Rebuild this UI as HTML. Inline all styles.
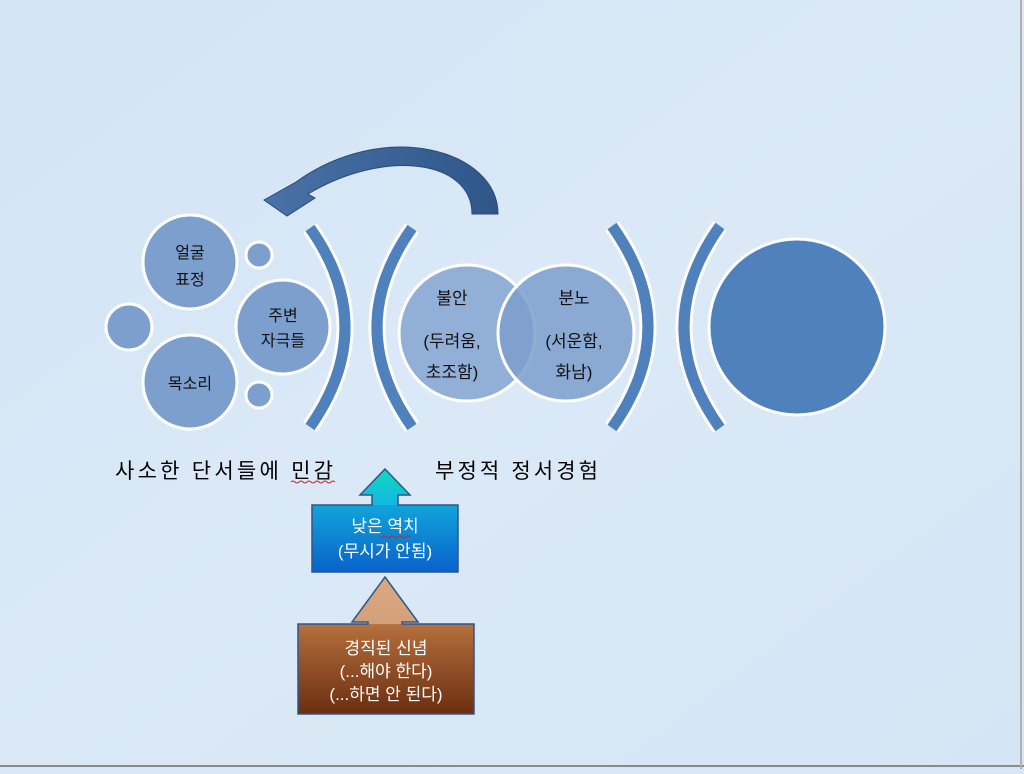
<!DOCTYPE html>
<html><head><meta charset="utf-8"><style>
html,body{margin:0;padding:0;}
body{width:1024px;height:769px;overflow:hidden;background:#d9e8f7;}
svg text{font-family:"Liberation Sans","Noto Sans CJK KR","NanumGothic",sans-serif;}
</style></head><body>
<svg width="1024" height="769" viewBox="0 0 1024 769" xmlns="http://www.w3.org/2000/svg">
<defs>
<linearGradient id="bg" x1="0" y1="0" x2="1" y2="1">
<stop offset="0" stop-color="#d3e4f6"/><stop offset="0.5" stop-color="#dbe9f7"/><stop offset="1" stop-color="#d5e5f5"/>
</linearGradient>
<linearGradient id="blue" x1="0" y1="0" x2="0" y2="1">
<stop offset="0" stop-color="#14c8e0"/><stop offset="1" stop-color="#0a62cc"/>
</linearGradient>
<linearGradient id="cyan" x1="0" y1="0" x2="0" y2="1">
<stop offset="0" stop-color="#10d8c0"/><stop offset="1" stop-color="#14b8e0"/>
</linearGradient>
<linearGradient id="brown" x1="0" y1="0" x2="0" y2="1">
<stop offset="0" stop-color="#d8a57a"/><stop offset="0.4" stop-color="#b06a3a"/><stop offset="1" stop-color="#6a2e10"/>
</linearGradient>
<linearGradient id="tan" x1="0" y1="0" x2="0" y2="1">
<stop offset="0" stop-color="#d9a880"/><stop offset="1" stop-color="#d4a07a"/>
</linearGradient>
<linearGradient id="arr" x1="0" y1="0" x2="1" y2="0">
<stop offset="0" stop-color="#4a72a8"/><stop offset="1" stop-color="#2f5688"/>
</linearGradient>
</defs>
<rect width="1024" height="769" fill="url(#bg)"/>
<line x1="0" y1="766" x2="1024" y2="766" stroke="#8a8a8a" stroke-width="2"/>
<line x1="1021" y1="0" x2="1021" y2="769" stroke="#b0b0b0" stroke-width="2"/>

<!-- curved arrow -->
<path d="M498,214 C498,150 385,118 296,182 L264,200 L287,216 L315,198 L308,194 C385,148 472,160 472,214 Z" fill="url(#arr)" stroke="#2a4a78" stroke-width="1"/>

<!-- small circles group -->
<g stroke="#fff" stroke-width="3" fill="#7d9fcd">
<circle cx="190" cy="262" r="47"/>
<circle cx="190" cy="382" r="47"/>
<circle cx="283" cy="327" r="47"/>
<circle cx="129" cy="327" r="23"/>
<circle cx="259" cy="255" r="13"/>
<circle cx="259" cy="395" r="13"/>
</g>
<g font-size="16" fill="#111" text-anchor="middle">
<text x="190" y="258">얼굴</text><text x="190" y="285">표정</text>
<text x="283" y="321">주변</text><text x="283" y="346">자극들</text>
<text x="190" y="389">목소리</text>
</g>

<!-- brackets -->
<g fill="none" stroke-linecap="butt">
<g stroke="#fff" stroke-width="17">
<path d="M310,228 Q380,327 310,427"/>
<path d="M412,228 Q342,327 412,427"/>
<path d="M612,226 Q684,327 612,428"/>
<path d="M720,226 Q648,327 720,428"/>
</g>
<g stroke="#4f81bd" stroke-width="11">
<path d="M310,228 Q380,327 310,427"/>
<path d="M412,228 Q342,327 412,427"/>
<path d="M612,226 Q684,327 612,428"/>
<path d="M720,226 Q648,327 720,428"/>
</g>
</g>

<!-- emotion circles -->
<circle cx="467" cy="333" r="68" fill="#89a8d3" fill-opacity="0.9" stroke="#fff" stroke-width="3"/>
<circle cx="566" cy="333" r="68" fill="#7d9fcd" fill-opacity="0.85" stroke="#fff" stroke-width="3"/>
<g font-size="17" fill="#111" text-anchor="middle">
<text x="452" y="304">불안</text><text x="452" y="347">(두려움,</text><text x="452" y="378">초조함)</text>
<text x="574" y="304">분노</text><text x="574" y="347">(서운함,</text><text x="574" y="378">화남)</text>
</g>
<circle cx="797" cy="327" r="88" fill="#4f81bd" stroke="#fff" stroke-width="3"/>

<g font-size="21" fill="#000">
<text x="115" y="478" textLength="218" lengthAdjust="spacing">사소한 단서들에 민감</text>
<text x="435" y="478" textLength="163" lengthAdjust="spacing">부정적 정서경험</text>
</g>
<path d="M291,482 q2,-2 4,0 t4,0 t4,0 t4,0 t4,0 t4,0 t4,0 t4,0 t4,0 t4,0 t4,0" stroke="#d02020" fill="none" stroke-width="1"/>

<!-- up arrow 1 -->
<path d="M385,469 L410,495 L398,495 L398,505 L458,505 L458,572 L312,572 L312,505 L372,505 L372,495 L360,495 Z" fill="url(#blue)"/>
<path d="M385,469 L410,495 L398,495 L398,505 L372,505 L372,495 L360,495 Z" fill="url(#cyan)"/>
<path d="M385,469 L410,495 L398,495 L398,505 L458,505 L458,572 L312,572 L312,505 L372,505 L372,495 L360,495 Z" fill="none" stroke="#2f5688" stroke-width="1.5"/>
<g font-size="17" fill="#fff" text-anchor="middle">
<text x="385" y="532">낮은 역치</text><text x="385" y="557">(무시가 안됨)</text>
</g>
<path d="M382,537 q2,-2 4,0 t4,0 t4,0 t4,0 t4,0 t4,0 t4,0" stroke="#d02020" fill="none" stroke-width="1"/>

<!-- up arrow 2 -->
<path d="M385,577 L418,622 L402,622 L402,624 L474,624 L474,714 L298,714 L298,624 L368,624 L368,622 L352,622 Z" fill="url(#brown)"/>
<path d="M385,577 L418,622 L402,622 L402,624 L368,624 L368,622 L352,622 Z" fill="url(#tan)"/>
<path d="M385,577 L418,622 L402,622 L402,624 L474,624 L474,714 L298,714 L298,624 L368,624 L368,622 L352,622 Z" fill="none" stroke="#2f5688" stroke-width="1.5"/>
<g font-size="17" fill="#fff" text-anchor="middle">
<text x="386" y="654">경직된 신념</text><text x="386" y="677">(...해야 한다)</text><text x="386" y="700">(...하면 안 된다)</text>
</g>
</svg>
</body></html>
